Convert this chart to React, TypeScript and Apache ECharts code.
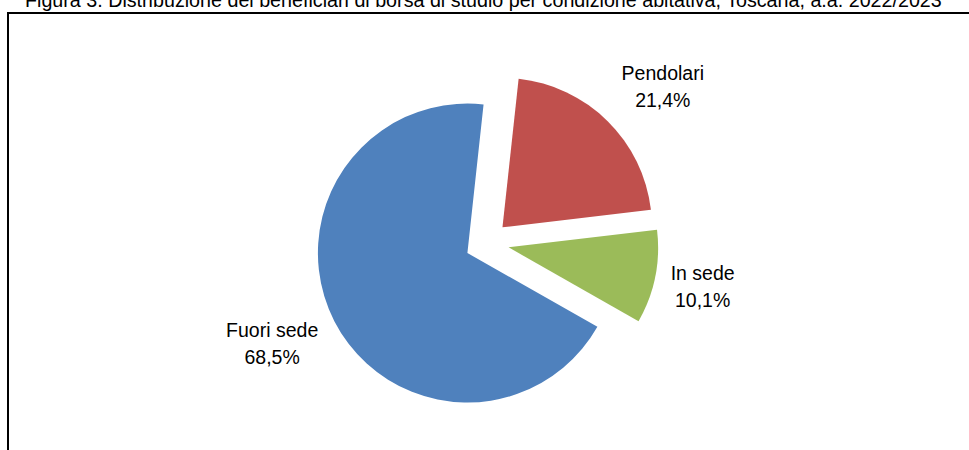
import React, { useEffect, useRef } from "react";
import * as echarts from "echarts";

const titleText =
  "Figura 3. Distribuzione dei beneficiari di borsa di studio per condizione abitativa, Toscana, a.a. 2022/2023";
const categories = ["Pendolari", "In sede", "Fuori sede"];
const values = [21.4, 10.1, 68.5];
const colors = ["#C0504D", "#9BBB59", "#4F81BD"];

const FONT = "'Liberation Sans', Arial, sans-serif";

export default function App() {
  const ref = useRef<HTMLDivElement>(null);
  useEffect(() => {
    if (!ref.current) return;
    const chart = echarts.init(ref.current, null, { renderer: "svg" });
    const length2 = [21, 0, 19];
    chart.setOption({
      animation: false,
      title: {
        text: titleText,
        left: 25,
        top: -10,
        padding: 0,
        textStyle: { fontFamily: FONT, fontSize: 19.7, fontWeight: "normal", color: "#000" },
      },
      graphic: [
        {
          type: "rect",
          shape: { x: 8, y: 13, width: 1000, height: 500 },
          style: { fill: "none", stroke: "#000", lineWidth: 2 },
          silent: true,
        },
      ],
      series: [
        {
          type: "pie",
          center: [487, 243],
          radius: 149.5,
          startAngle: 83.8,
          clockwise: true,
          selectedMode: "multiple",
          selectedOffset: 22,
          avoidLabelOverlap: false,
          emphasis: { disabled: true },
          select: { itemStyle: { borderWidth: 0 } },
          label: {
            show: true,
            position: "outside",
            distanceToLabelLine: 0,
            fontFamily: FONT,
            fontSize: 19.5,
            lineHeight: 27,
            color: "#000",
            formatter: (p: any) => `${p.name}\n${p.value.toFixed(1).replace(".", ",")}%`,
          },
          labelLine: { show: false, length: 48.5, length2: 0 },
          labelLayout: { align: "center" },
          data: categories.map((name, i) => ({
            name,
            value: values[i],
            selected: true,
            itemStyle: { color: colors[i] },
            select: { itemStyle: { color: colors[i] } },
            labelLine: { show: false, length: 48.5, length2: length2[i] },
          })),
        },
      ],
    });
    return () => chart.dispose();
  }, []);
  return (
    <div
      ref={ref}
      style={{ position: "absolute", left: 0, top: 0, width: 969, height: 450 }}
    />
  );
}
